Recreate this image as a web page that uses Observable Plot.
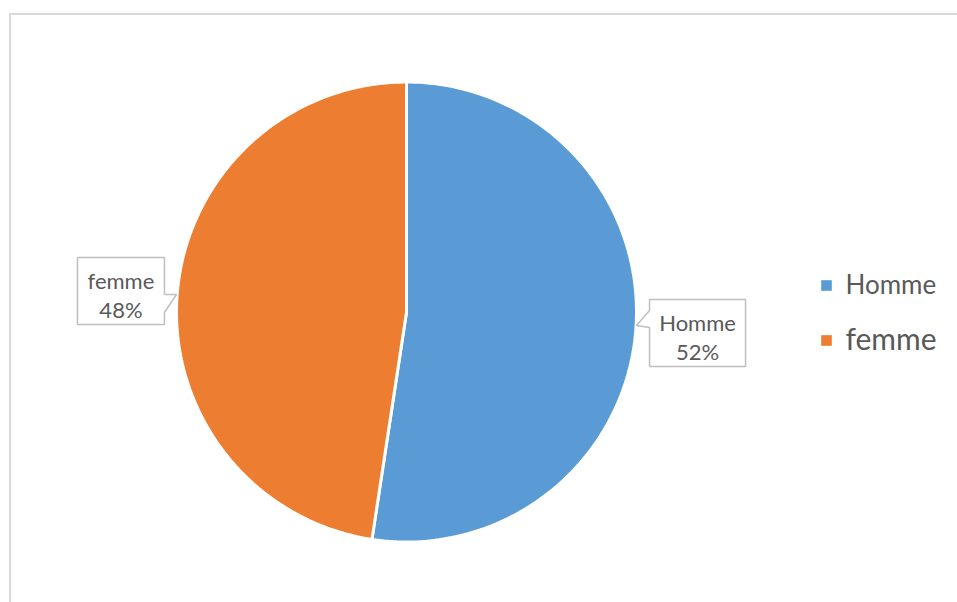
<!DOCTYPE html>
<html>
<head>
<meta charset="utf-8">
<script src="https://cdn.jsdelivr.net/npm/d3@7"></script>
<script src="https://cdn.jsdelivr.net/npm/@observablehq/plot@0.6"></script>
<style>
  html, body { margin: 0; padding: 0; background: #fff; overflow: hidden; }
  #wrap { position: relative; width: 957px; height: 602px; }
  #frame { position: absolute; left: 9px; top: 13px; width: 2000px; height: 2000px;
           border-top: 2px solid #d9d9d9; border-left: 2px solid #d9d9d9; box-sizing: border-box; }
  #chart { position: absolute; left: 0; top: 0; }
</style>
</head>
<body>
<div id="wrap"><div id="frame"></div><div id="chart"></div></div>
<script>
// ---- data ----
const categories = ["Homme", "femme"];
const values = [52.4, 47.6];
const colors = ["#5B9BD5", "#ED7D31"];
const legendFontSizes = [26, 30];

// ---- layout ----
const W = 957, H = 602;
const CX = 406, CY = 311.5, R = 230;
const toX = px => (px - CX) / R;
const toY = py => (CY - py) / R;

const rows = categories.map((c, i) => ({cat: c, value: values[i]}));
const arcs = d3.pie().sort(null).value(d => d.value)(rows);

// slice polygons derived from the pie angles
const slicePts = [];
for (const a of arcs) {
  const n = 180;
  slicePts.push({cat: a.data.cat, x: 0, y: 0});
  for (let i = 0; i <= n; i++) {
    const t = a.startAngle + (a.endAngle - a.startAngle) * i / n;
    slicePts.push({cat: a.data.cat, x: Math.sin(t), y: Math.cos(t)});
  }
  slicePts.push({cat: a.data.cat, x: 0, y: 0});
}

// callout geometry (pixel offsets relative to the slice mid-angle anchor on the rim)
const calloutStyle = {
  Homme: {tip: [1.7, -3.75], L: 14.7, Rt: 110.7, T: -29.75, B: 37.25, b1: -18.75, b2: -1.75, side: "right"},
  femme: {tip: [-1.7, -0.25], L: -100.7, Rt: -13.7, T: -37.25, B: 29.75, b1: -0.25, b2: 17.75, side: "left"}
};
const rimR = 229;
const calloutPts = [], labelPts = [];
for (const a of arcs) {
  const mid = (a.startAngle + a.endAngle) / 2;
  const ax = CX + rimR * Math.sin(mid), ay = CY - rimR * Math.cos(mid);
  const s = calloutStyle[a.data.cat];
  const L = ax + s.L, Rr = ax + s.Rt, T = ay + s.T, B = ay + s.B;
  const tx = ax + s.tip[0], ty = ay + s.tip[1];
  let poly;
  if (s.side === "right") {
    poly = [[L, T], [Rr, T], [Rr, B], [L, B], [L, ay + s.b2], [tx, ty], [L, ay + s.b1], [L, T]];
  } else {
    poly = [[L, T], [Rr, T], [Rr, ay + s.b1], [tx, ty], [Rr, ay + s.b2], [Rr, B], [L, B], [L, T]];
  }
  for (const [px, py] of poly) calloutPts.push({cat: a.data.cat, x: toX(px), y: toY(py)});
  labelPts.push({
    cat: a.data.cat,
    text: `${a.data.cat}\n${Math.round(a.data.value / d3.sum(values) * 100)}%`,
    x: toX((L + Rr) / 2), y: toY((T + B) / 2)
  });
}

// legend
const legendRows = categories.map((c, i) => ({cat: c, x1: toX(826), x2: toX(845), y: toY(285 + 55 * i), fs: legendFontSizes[i]}));

const plot = Plot.plot({
  width: W, height: H,
  marginLeft: CX - R, marginRight: W - CX - R,
  marginTop: CY - R, marginBottom: H - CY - R,
  x: {domain: [-1, 1], axis: null},
  y: {domain: [-1, 1], axis: null},
  color: {domain: categories, range: colors},
  style: {background: "transparent", overflow: "visible"},
  marks: [
    Plot.line(slicePts, {x: "x", y: "y", z: "cat", fill: "cat", stroke: "white", strokeWidth: 3, strokeLinejoin: "miter", curve: "linear"}),
    Plot.line(calloutPts, {x: "x", y: "y", z: "cat", fill: "white", stroke: "#bfbfbf", strokeWidth: 1.5, strokeLinejoin: "miter", curve: "linear"}),
    Plot.text(labelPts, {x: "x", y: "y", text: "text", fontSize: 22, lineHeight: 1.32, dy: 3, fill: "#595959", fontFamily: "Lato, 'Open Sans', sans-serif"}),
    Plot.dot(legendRows, {x: "x1", y: "y", fill: "cat", symbol: "square", r: 6, stroke: null}),
    ...legendRows.map(d => Plot.text([d], {x: "x2", y: "y", text: "cat", textAnchor: "start", fontSize: d.fs, fill: "#595959", fontFamily: "Lato, 'Open Sans', sans-serif"}))
  ]
});
document.getElementById("chart").appendChild(plot);
</script>
</body>
</html>
